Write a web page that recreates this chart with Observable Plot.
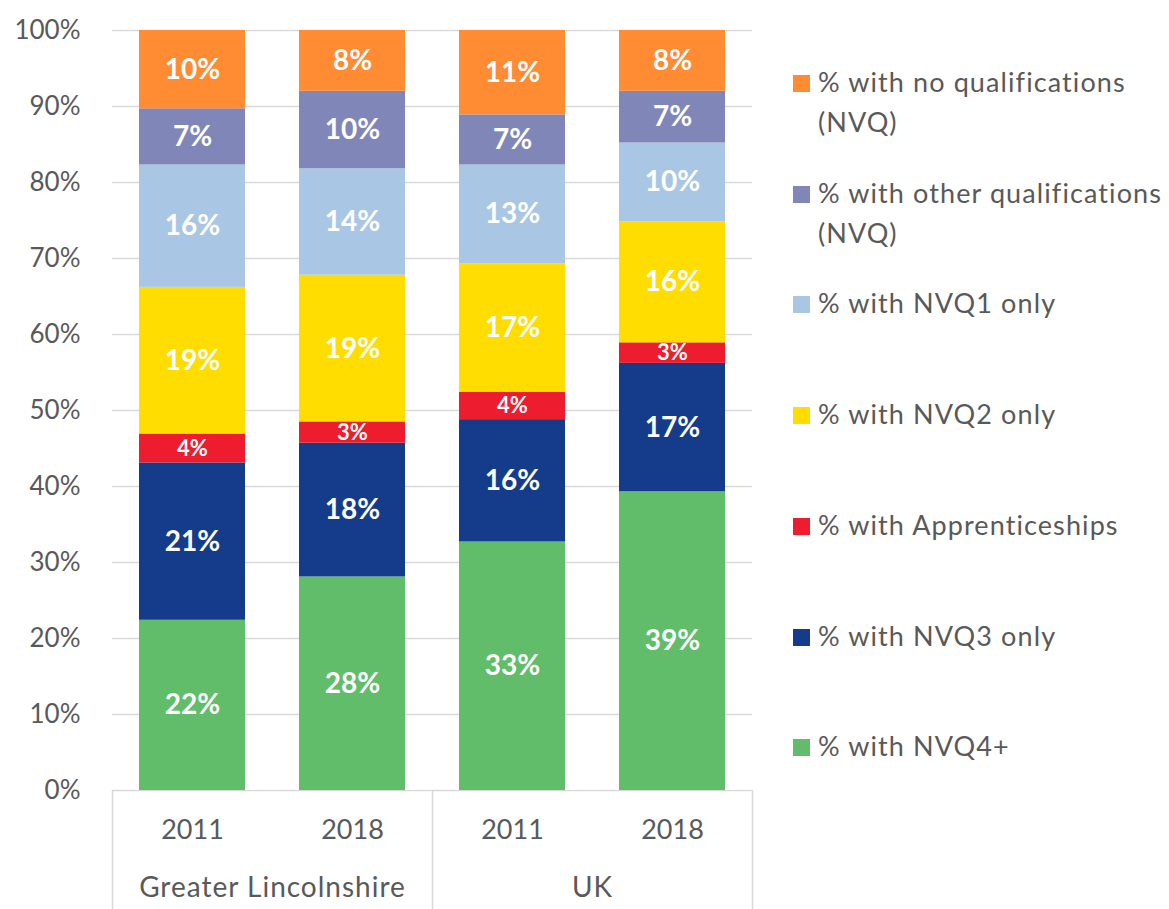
<!DOCTYPE html>
<html><head><meta charset="utf-8">
<script src="https://cdn.jsdelivr.net/npm/d3@7"></script>
<script src="https://cdn.jsdelivr.net/npm/@observablehq/plot@0.6"></script>
<style>
body{margin:0;background:#fff;font-family:Lato,sans-serif}
#wrap{position:relative;width:1169px;height:909px;overflow:hidden}
.item{position:absolute;left:793px;width:376px;font-size:27px;line-height:40px;color:#595959;padding-left:25px;box-sizing:border-box;letter-spacing:1.1px;white-space:nowrap}
.sw{position:absolute;left:0;top:13px;width:17px;height:17px}
</style></head>
<body><div id="wrap"></div>
<script>
const groups = ["Greater Lincolnshire", "UK"];
const years = ["2011", "2018"];
const categories = ["% with NVQ4+", "% with NVQ3 only", "% with Apprenticeships", "% with NVQ2 only", "% with NVQ1 only", "% with other qualifications (NVQ)", "% with no qualifications (NVQ)"];
const colors = ["#61BD6A", "#153C8A", "#ED1C2E", "#FFDD00", "#A9C7E4", "#8087B8", "#FF8B33"];
// values per bar: GL 2011, GL 2018, UK 2011, UK 2018
const nvq4 = [22.4, 28.1, 32.7, 39.3];
const nvq3 = [20.7, 17.6, 16.1, 16.9];
const apprenticeships = [3.8, 2.8, 3.6, 2.7];
const nvq2 = [19.3, 19.3, 16.9, 15.9];
const nvq1 = [16.1, 14.0, 13.0, 10.4];
const otherQual = [7.4, 10.2, 6.6, 6.8];
const noQual = [10.3, 8.0, 11.1, 8.0];
const yTicks = [0, 10, 20, 30, 40, 50, 60, 70, 80, 90, 100];

const series = [nvq4, nvq3, apprenticeships, nvq2, nvq1, otherQual, noQual];
const keys = [];
groups.forEach(g => years.forEach(y => keys.push(g + "|" + y)));
const rows = [];
keys.forEach((k, i) => categories.forEach((c, j) => rows.push({key: k, category: c, value: series[j][i]})));

const chart = Plot.plot({
  width: 1169, height: 909,
  marginTop: 30, marginBottom: 119, marginLeft: 112, marginRight: 417,
  style: {fontFamily: "Lato, sans-serif", color: "#595959", background: "white", overflow: "visible"},
  x: {domain: keys, paddingInner: 0.3375, paddingOuter: 0.16875, align: 0.5, axis: null},
  y: {domain: [0, 100], axis: null},
  color: {domain: categories, range: colors, legend: false},
  marks: [
    Plot.gridY(yTicks, {stroke: "#d9d9d9", strokeOpacity: 1, strokeWidth: 1.5}),
    Plot.ruleX([keys[0], keys[2]], {dx: -80, stroke: "#d9d9d9", strokeWidth: 1.5, insetTop: 760, insetBottom: -119}),
    Plot.ruleX([keys[3]], {dx: 80, stroke: "#d9d9d9", strokeWidth: 1.5, insetTop: 760, insetBottom: -119}),
    Plot.barY(rows, {x: "key", y: "value", fill: "category"}),
    Plot.text(rows, Plot.stackY({
      x: "key", y: "value", z: "category",
      text: d => Math.round(d.value) + "%",
      fill: "white", fontWeight: "bold",
      fontSize: d => d.category === "% with Apprenticeships" ? 22 : 28
    })),
    Plot.axisY({ticks: yTicks, tickFormat: d => d + "%", tickSize: 0, tickPadding: 32, fontSize: 26, label: null}),
    Plot.axisX({tickFormat: d => d.split("|")[1], tickSize: 0, tickPadding: 29, fontSize: 27, label: null}),
    Plot.text(groups, {x: g => g + "|2011", dx: 80, frameAnchor: "bottom", dy: 106, text: d => d, fontSize: 28, fill: "#595959", style: {letterSpacing: "1px"}})
  ]
});
const wrap = document.getElementById("wrap");
wrap.appendChild(chart);
// letter spacing for group labels
d3.select(chart).selectAll("text").filter(function() { return groups.includes(this.textContent); }).style("letter-spacing", "1px");

const legendOrder = categories.slice().reverse();
const legendColors = colors.slice().reverse();
legendOrder.forEach((c, i) => {
  const item = document.createElement("div");
  item.className = "item";
  item.style.top = (62 + i * 110.7) + "px";
  const sw = document.createElement("span");
  sw.className = "sw";
  sw.style.background = legendColors[i];
  item.appendChild(sw);
  const parts = c.split(" (NVQ)");
  const t = document.createElement("div");
  t.textContent = parts[0];
  item.appendChild(t);
  if (parts.length > 1) {
    const t2 = document.createElement("div");
    t2.textContent = "(NVQ)";
    item.appendChild(t2);
  }
  wrap.appendChild(item);
});
</script>
</body></html>
